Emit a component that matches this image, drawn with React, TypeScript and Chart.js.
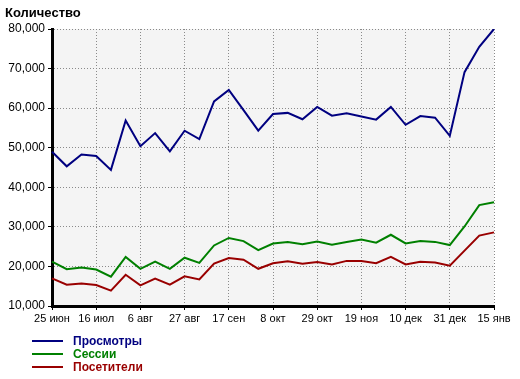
import React, { useEffect, useRef } from "react";
import { Chart, registerables } from "chart.js";

Chart.register(...registerables);

const categories = [
  "25 июн", "2 июл", "9 июл", "16 июл", "23 июл", "30 июл", "6 авг", "13 авг",
  "20 авг", "27 авг", "3 сен", "10 сен", "17 сен", "24 сен", "1 окт", "8 окт",
  "15 окт", "22 окт", "29 окт", "5 ноя", "12 ноя", "19 ноя", "26 ноя", "3 дек",
  "10 дек", "17 дек", "24 дек", "31 дек", "5 янв", "10 янв", "15 янв",
];

const views = [
  49000, 45300, 48300, 47900, 44400, 56900, 50400, 53700, 49100, 54300, 52200,
  61700, 64600, 59500, 54300, 58500, 58800, 57200, 60300, 58100, 58700, 57900,
  57100, 60300, 55800, 58000, 57600, 53000, 69100, 75500, 80000,
];

const sessions = [
  21200, 19300, 19700, 19200, 17400, 22400, 19400, 21200, 19400, 22200, 20900,
  25300, 27200, 26400, 24100, 25800, 26200, 25600, 26300, 25500, 26200, 26800,
  26000, 28000, 25800, 26400, 26200, 25400, 30100, 35500, 36200,
];

const visitors = [
  17000, 15400, 15700, 15300, 13900, 17900, 15200, 16900, 15400, 17500, 16700,
  20700, 22100, 21700, 19400, 20800, 21300, 20700, 21100, 20500, 21400, 21400,
  20800, 22400, 20500, 21200, 21000, 20200, 24000, 27800, 28600,
];

const seriesNames = ["Просмотры", "Сессии", "Посетители"];
const seriesColors = ["#000080", "#008000", "#990000"];
const yTitle = "Количество";
const labelEvery = 3;

const FONT = "'Liberation Sans', Arial, sans-serif";

const bgPlugin = {
  id: "plotBg",
  beforeDraw(chart: any) {
    const { ctx, chartArea } = chart;
    ctx.save();
    ctx.fillStyle = "#f4f4f4";
    ctx.fillRect(chartArea.left, chartArea.top, chartArea.right - chartArea.left, chartArea.bottom - chartArea.top);
    ctx.restore();
  },
};

const textPlugin = {
  id: "titleLegend",
  afterDraw(chart: any) {
    const { ctx } = chart;
    ctx.save();
    ctx.fillStyle = "#000";
    ctx.font = `bold 13px ${FONT}`;
    ctx.textBaseline = "alphabetic";
    ctx.textAlign = "left";
    ctx.fillText(yTitle, 5, 17);
    const ds = chart.data.datasets;
    ds.forEach((d: any, i: number) => {
      const y = 341 + i * 13;
      ctx.strokeStyle = d.borderColor;
      ctx.lineWidth = 2;
      ctx.beginPath();
      ctx.moveTo(32, y);
      ctx.lineTo(63, y);
      ctx.stroke();
      ctx.fillStyle = d.borderColor;
      ctx.font = `bold 12px ${FONT}`;
      ctx.textBaseline = "middle";
      ctx.fillText(d.label, 73, y + 1);
    });
    ctx.restore();
  },
};

export default function App() {
  const ref = useRef<HTMLCanvasElement | null>(null);

  useEffect(() => {
    if (!ref.current) return;
    const chart = new Chart(ref.current, {
      type: "line",
      data: {
        labels: categories,
        datasets: [views, sessions, visitors].map((data, i) => ({
          label: seriesNames[i],
          data,
          borderColor: seriesColors[i],
          backgroundColor: seriesColors[i],
          borderWidth: 2,
          pointRadius: 0,
          tension: 0,
          fill: false,
        })),
      },
      options: {
        responsive: false,
        animation: false,
        devicePixelRatio: 1,
        layout: { padding: { left: 0, right: 26, top: 29, bottom: 55 } },
        plugins: {
          legend: { display: false },
          title: { display: false },
          tooltip: { enabled: false },
        },
        scales: {
          x: {
            type: "category",
            offset: false,
            afterFit(scale: any) {
              scale.height = 18;
            },
            border: { display: true, color: "#000", width: 3, dash: [1, 2] },
            grid: {
              color: (c: any) => (c.index % labelEvery === 0 ? "#8a8a8a" : "rgba(0,0,0,0)"),
              tickColor: (c: any) => (c.index % labelEvery === 0 ? "#000" : "rgba(0,0,0,0)"),
              tickLength: 4,
              lineWidth: 1,
            },
            ticks: {
              autoSkip: false,
              maxRotation: 0,
              minRotation: 0,
              padding: 2,
              color: "#000",
              font: { family: FONT, size: 11 },
              callback: (_v: any, i: number) => (i % labelEvery === 0 ? categories[i] : ""),
            },
          },
          y: {
            min: 10000,
            max: 80000,
            afterFit(scale: any) {
              scale.width = 52;
            },
            border: { display: true, color: "#000", width: 3, dash: [1, 2] },
            grid: {
              color: "#8a8a8a",
              tickColor: "#000",
              tickLength: 4,
              lineWidth: 1,
            },
            ticks: {
              stepSize: 10000,
              padding: 3,
              color: "#000",
              font: { family: FONT, size: 12 },
              callback: (v: any) => Number(v).toLocaleString("en-US"),
            },
          },
        },
      },
      plugins: [bgPlugin, textPlugin],
    });
    return () => chart.destroy();
  }, []);

  return (
    <div style={{ position: "absolute", left: 0, top: 0, width: 520, height: 379, background: "#fff" }}>
      <canvas ref={ref} width={520} height={379} style={{ width: 520, height: 379, display: "block" }} />
    </div>
  );
}
